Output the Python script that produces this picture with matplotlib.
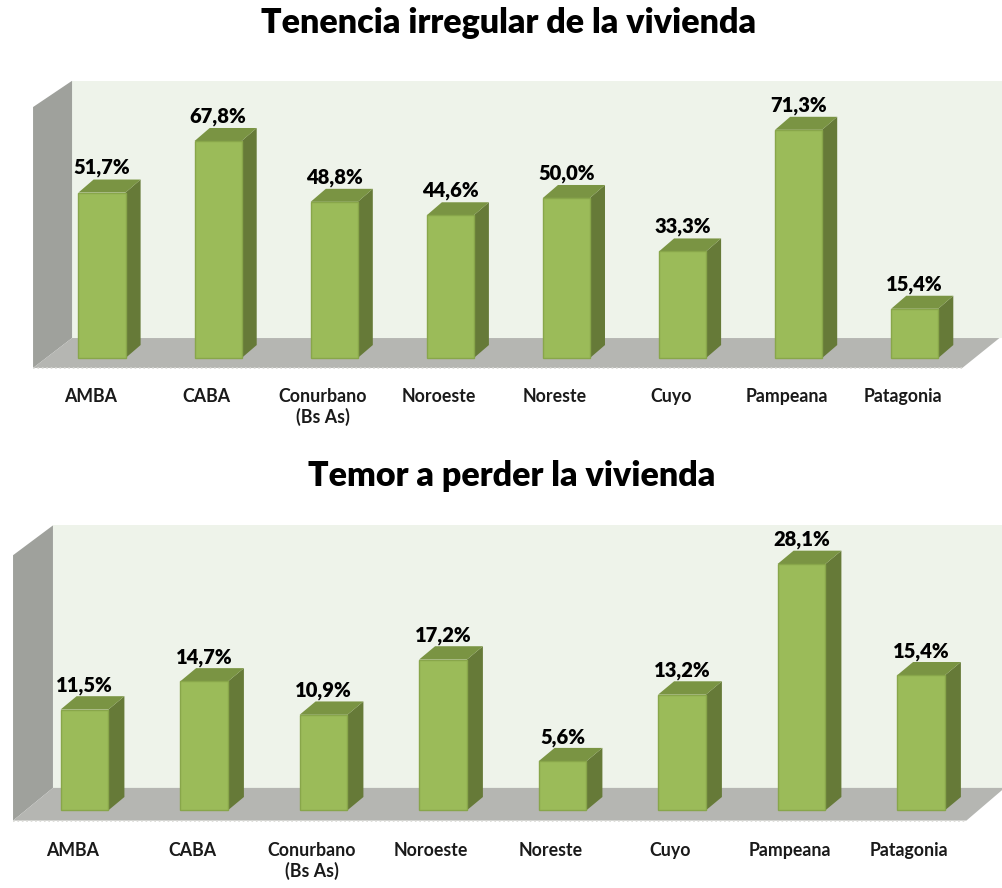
import matplotlib
matplotlib.use('Agg')
import matplotlib.pyplot as plt
from matplotlib.patches import Polygon

plt.rcParams['font.family'] = ['Lato', 'DejaVu Sans']

# datos
regiones = ['AMBA', 'CABA', 'Conurbano\n(Bs As)', 'Noroeste', 'Noreste', 'Cuyo', 'Pampeana', 'Patagonia']
tenencia_irregular = [51.7, 67.8, 48.8, 44.6, 50.0, 33.3, 71.3, 15.4]
temor_perder = [11.5, 14.7, 10.9, 17.2, 5.6, 13.2, 28.1, 15.4]
titulo_1 = 'Tenencia irregular de la vivienda'
titulo_2 = 'Temor a perder la vivienda'

# colores
C_FRENTE = '#9bbb59'
C_LADO = '#667a38'
C_TECHO = '#7a9443'
C_BORDE = '#88a64a'
C_FONDO = '#eef3ea'
C_PARED = '#9fa19c'
C_PISO = '#b5b6b2'


def poly(ax, pts, color, z, ec='none'):
    ax.add_patch(Polygon(pts, closed=True, facecolor=color, edgecolor=ec, lw=0.8, zorder=z))


# dibuja un panel con barras pseudo 3D
def panel(ax, valores, g):
    ax.set_xlim(g['xlim'])
    ax.set_ylim(g['ylim'])
    ax.axis('off')

    # paredes y piso
    wx0, wx1 = g['wall_x']
    fy0, fy1 = g['floor_y']
    ty0, ty1 = g['wall_top']
    rx0, rx1 = g['floor_right']
    poly(ax, [(wx1, fy1), (wx1, ty1), (g['xlim'][1], ty1), (g['xlim'][1], fy1)], C_FONDO, 1)
    poly(ax, [(wx0, fy0), (wx0, ty0), (wx1, ty1), (wx1, fy1)], C_PARED, 1)
    poly(ax, [(wx0, fy0), (wx1, fy1), (rx1, fy1), (rx0, fy0)], C_PISO, 1)
    ax.plot([wx0, rx0], [fy0, fy0], color='#d8d8d4', lw=1.2, ls=':', zorder=1.5)

    x = list(range(len(valores)))
    w = g['ancho']
    dx, dy = g['prof']
    ax.bar(x, valores, width=w, color=C_FRENTE, edgecolor=C_BORDE, linewidth=1, zorder=3)
    for xi, v in zip(x, valores):
        r = xi + w / 2
        l = xi - w / 2
        poly(ax, [(r, 0), (r + dx, dy), (r + dx, v + dy), (r, v)], C_LADO, 2.9)
        poly(ax, [(l, v), (l + dx, v + dy), (r + dx, v + dy), (r, v)], C_TECHO, 2.9)
        ax.annotate(f'{v:.1f}%'.replace('.', ','), (xi, v + dy), xytext=(0, g['pad']),
                    textcoords='offset points', ha='center', va='bottom',
                    fontsize=14.5, fontweight='heavy', color='black', zorder=5)
    for xi, nombre in zip(x, regiones):
        ax.text(xi - g['shift'], g['label_y'], nombre, ha='center', va='top',
                fontsize=12.8, fontweight='bold', color='#1a1a1a', linespacing=1.2)


fig = plt.figure(figsize=(10.02, 8.88), dpi=100)

geo_1 = dict(xlim=(-0.8786, 7.752), ylim=(-25.6, 93.1), wall_x=(-0.594, -0.258),
             floor_y=(-3.1, 6.25), wall_top=(78.4, 86.6), floor_right=(7.41, 7.73),
             ancho=0.405, prof=(0.13, 4.06), pad=1.5, shift=0.1, label_y=-9.4)
geo_2 = dict(xlim=(-0.7071, 7.678), ylim=(-8.86, 35.4), wall_x=(-0.598, -0.264),
             floor_y=(-1.17, 2.56), wall_top=(29.1, 32.5), floor_right=(7.38, 7.70),
             ancho=0.40, prof=(0.134, 1.52), pad=1.0, shift=0.1, label_y=-3.65)

ax1 = fig.add_axes([0, 1 - 440 / 888, 1, 380 / 888])
panel(ax1, tenencia_irregular, geo_1)
ax2 = fig.add_axes([0, 1 - 888 / 888, 1, 388 / 888])
panel(ax2, temor_perder, geo_2)

fig.text(0.508, 1 - 23 / 888, titulo_1, ha='center', va='center', fontsize=24.5, fontweight='heavy')
fig.text(0.511, 1 - 476 / 888, titulo_2, ha='center', va='center', fontsize=24.5, fontweight='heavy')

fig.savefig('out.png', dpi=100)
